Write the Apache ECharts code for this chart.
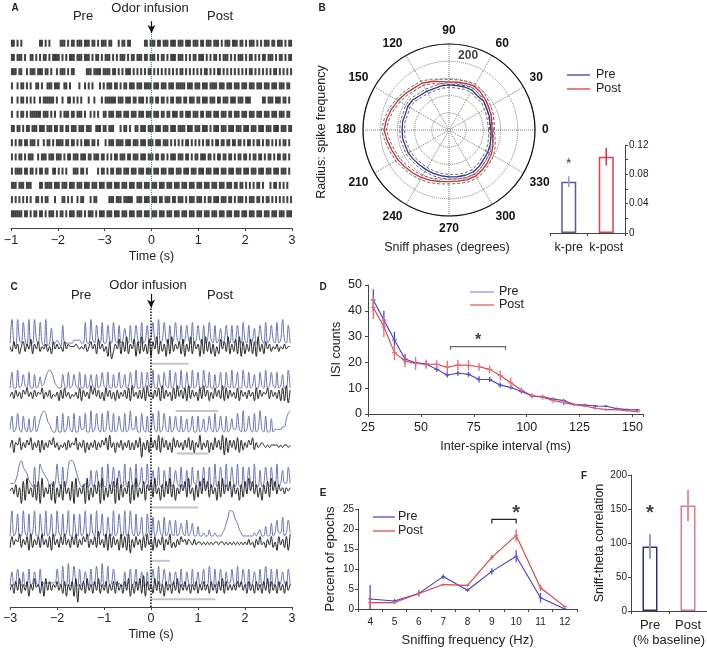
<!DOCTYPE html>
<html><head><meta charset="utf-8">
<script src="https://cdn.jsdelivr.net/npm/echarts@6/dist/echarts.min.js"></script>
<style>html,body{margin:0;padding:0;background:#fff}#c{width:707px;height:648px}</style>
</head><body><div id="c"></div>
<script>
// ---------------- DATA ----------------
// Panel A: raster (13 trials), one char per 0.04 s bin from -3 s; '1' = spike
const rasterStart = -3, rasterBin = 0.04;
const rasterTickLabels = ['\u22121','\u22122','\u22123','0','1','2','3'];
const rasterRows = [
 "110101000000000110101000001110"+"101101110111011010111011000101"+"101100000001101110110111011101"+"110111011101101110111010111011"+"101101011101010111011011101011",
 "110111010011010101101011110101"+"011101110111010110101110101011"+"101011011101101110101101011101"+"110101011011101010110101110101"+"011101011010101101110101101011",
 "111011001011101110110100101110"+"101100000011101111011110110101"+"011101010101011010101010101010"+"110101010101011010101101010101"+"010101011010101010101101010101",
 "100101101010011010011101110011"+"010000100101010001010111011010"+"110111011101111011101110111011"+"111011101110111011110111011101"+"110111011101110111011101110110",
 "100101101010100101111110100100"+"110101010001001000101111110111"+"011101101110101101101101011011"+"101101110110111011101101110111"+"011101110000001101110111011010",
 "100101101011111101110101001011"+"101101110100101010011011101110"+"111011101110111011101101101110"+"110111011101101110111011101101"+"110111011101110111011101110110",
 "110110101101110111011101101101"+"101110111011100111011011100010"+"110100110111011101110111011101"+"111011101110111010111011101110"+"111011101110111011101110111011",
 "101011011011101001011010111101"+"101101010111011010001011101111"+"011101110111011101110111010101"+"010110101010101101011011011011"+"011010110101101011010101011010",
 "101011010111001011101110111010"+"110111011101101110110101011011"+"101101110111011101101101011101"+"110110101101110110101101101101"+"011011010110110101101011011010",
 "101111011011010110110011010101"+"000111011010000010110101101110"+"111011101110111011101110111011"+"101110111011101110111011101110"+"111011101110111011101110111010",
 "111011101110000110111101110111"+"011101110111011101110111011101"+"110111011101110111011101110111"+"011101110111011101110111011101"+"101101010101101000101101010100",
 "101010101010011010110001000110"+"101001011000101100000011101110"+"111110011101110111011011101101"+"110101110111010110111011101101"+"011101011101101011010101010101",
 "111111011010110110101110101101"+"011101110101110101110111011101"+"110111011101110111011101110111"+"011101110111011101110111011101"+"110111011101110111011101110111"
];

// Panel B: polar spike frequency vs sniff phase
const polarAngles = [0,10,20,30,40,50,60,70,80,90,100,110,120,130,140,150,160,170,180,190,200,210,220,230,240,250,260,270,280,290,300,310,320,330,340,350];
const polarPre  = [122,121,124,126,131,129,134,133,131,131,130,128,130,131,137,138,135,137,136,137,135,136,134,133,133,134,135,136,138,140,141,137,132,130,127,124];
const polarPost = [125,126,130,133,138,143,147,144,141,140,143,150,157,159,165,171,178,184,189,182,176,172,167,163,160,156,152,150,151,154,155,151,146,142,136,129];
const polarPreSem = 7, polarPostSem = 7;
const polarRingLabel = 200;
const kCategories = ['k-pre','k-post'];
const kValues = [0.070, 0.104];
const kErr = [0.0073, 0.012];
const kStar = 0.094;

// Panel C: sniff (blue) and theta (black) traces, one digit (0-9) per 0.04 s from -3 s
const traceStart = -3, traceStep = 0.04;
const sniffTraces = [
 "191092182091192181090161121071"+"111122221181192172181172182171"+"262171272181271382191282171282"+"171272181272171282171261272171"+"272182171261272181272181292171",
 "181191272181171262368986321172"+"181272181171272171282181171281"+"271282191181282191172182191281"+"191182191281192181171281182191"+"281192181271182191282181271191",
 "271282172161271368985421171181"+"272181172281191282181292181272"+"181292271182171282191282171272"+"171261271171261272181272171262"+"282191272181292171161222233689",
 "222358976532171286543121282171"+"279986421121161262171181271262"+"181172181272281262171162171262"+"171161172261271171181272181272"+"181171272181161272172181262272",
 "191281192181291182191281192181"+"291182181291182191281172191282"+"191292181271182171262171262161"+"252161251141121131121112357998"+"653211111121231141151262271262",
 "161272161171262171222222272181"+"191282171262171282191181272121"+"161271271261161272181272161262"+"171162171261271182171271162272"+"181272171262171282171271262171"
];
const thetaTraces = [
 "537462573648264735463527464537"+"465556545463574628463517036482"+"739264817293628174927361829364"+"728163927461829372615284739263"+"829172638271936274635463546455",
 "463746375846374658364735462738"+"463546382746395847362847362736"+"473829463738294637482937462839"+"473829374628394726384739283746"+"382746374628374658374637282917",
 "472658364758364727364758463546"+"374658364726364736475839462647"+"364736374806372847392847362847"+"463748372649364726384739182747"+"382736475836456545455554545545",
 "564736182946372819364728163728"+"462819364719263748192637481927"+"364817293648275839462738493726"+"475839462738495837462839475837"+"462738495847362748395847564656",
 "374658364728364738463728463748"+"463748364758364739463828374628"+"372816374627384627364726483536"+"475646546455454545455455454545"+"454545464536474536473527463728",
 "463748364726485637284746574637"+"264728064738463748364736473746"+"374826374839274638473627463748"+"364746364736474637463748374646"+"475746374637463748374637463746"
];
const grayBarRanges = [[0,0.8],[0.52,1.43],[0.55,1.23],[0,1.0],[0,0.4],[0,1.37]];

// Panel D: ISI histogram
const isiX = [27.5,32.5,37.5,42.5,47.5,52.5,57.5,62.5,67.5,72.5,77.5,82.5,87.5,92.5,97.5,102.5,107.5,112.5,117.5,122.5,127.5,132.5,137.5,142.5,147.5,152.5];
const isiPre = [44.2,36.4,28.7,21.3,19.9,19.4,17.3,15.1,15.8,15.4,13.4,13.4,11.2,10.3,8.7,7.1,6.7,5.8,5.2,3.7,3.5,3.1,3.0,2.1,1.7,1.6];
const isiPreErr = [4.2,3.6,3.2,2,1,1,1,1,1,1,1.2,1,1,0.8,0.8,0.7,0.7,0.6,0.6,0.5,0.5,0.4,0.4,0.4,0.4,0.3];
const isiPost = [41.3,33.8,23.8,20.5,19.6,19.3,19.3,18.1,19.0,18.9,18.3,17.3,14.9,12.1,9.3,7.0,6.5,5.2,4.4,3.6,3.1,2.2,1.7,1.7,1.3,0.9];
const isiPostErr = [4.5,4,3,2.5,2.5,1.8,1.5,2.5,2,2,1.5,1.5,2,2,1,1,1,1,1,0.6,0.5,0.5,0.5,0.4,0.4,0.3];
const isiBracket = {from:64, to:90, y:26.1, drop:1.2};
const isiStar = [77, 28.3];

// Panel E: sniffing frequency distribution
const freqCats = ['4','5','6','7','8','9','10','11','12'];
const freqPre = [2.5,2.0,3.9,8.1,4.7,9.4,13.2,2.8,0.0];
const freqPreErr = [3.5,0.5,0.8,0.6,0.4,0.8,1.5,1.2,0.3];
const freqPost = [1.6,1.6,3.9,6.1,5.9,12.9,18.4,5.3,0.6];
const freqPostErr = [1.6,0.4,0.5,0.3,0.3,0.6,1.5,0.8,0.3];
const freqBracket = {from:8.8, to:10.25, y:22.4, drop:1.0};
const freqStar = [9.55, 24];

// Panel F: sniff-theta correlation
const corrCats = ['Pre','Post'];
const corrValues = [95, 155];
const corrErr = [18, 23];
const corrStar = 144;

// ---------------- BUILD ----------------
const FONT = 'Liberation Sans, Arial, sans-serif';
const TXT = '#222';
const chart = echarts.init(document.getElementById('c'));

const rasterData = [];
rasterRows.forEach((s, r) => {
  for (let i = 0; i < s.length; i++) {
    const t = rasterStart + (i + 0.5) * rasterBin;
    if (s[i] === '1' && t < 3) rasterData.push([t, r + 1]);
  }
});

function closeLoop(vals, off) {
  const d = vals.map((v, i) => [v + off, polarAngles[i]]);
  d.push(d[0]);
  return d;
}

// trace layout (offsets in the hidden C y-axis, 1 unit = 1 px)
const traceLayout = [
  {sb:265, ss:3.0, tb:252, ts:2.5, gy:247},
  {sb:220, ss:2.3, tb:205, ts:2.2, gy:199},
  {sb:175, ss:2.7, tb:152, ts:2.5, gy:156},
  {sb:119, ss:3.3, tb:102, ts:3.2, gy:101},
  {sb:69,  ss:3.2, tb:52,  ts:2.8, gy:47},
  {sb:19,  ss:2.8, tb:5,   ts:3.0, gy:8}
];
function traceData(str, base, scale) {
  const d = [];
  for (let i = 0; i < str.length; i++) {
    const t = traceStart + i * traceStep;
    if (t > 3.0001) break;
    d.push([t, base + Number(str[i]) * scale]);
  }
  return d;
}

function errBars(xi, yi, xs, vals, errs, color, capHalf, lw) {
  return {
    type:'custom', xAxisIndex:xi, yAxisIndex:yi, clip:true, z:4, silent:true,
    data: vals.map((v, i) => [xs[i], v - errs[i], v + errs[i], v]),
    renderItem: (p, api) => {
      const a = api.coord([api.value(0), api.value(1)]);
      const b = api.coord([api.value(0), api.value(2)]);
      const m = api.coord([api.value(0), api.value(3)]);
      const ch = [{type:'line', shape:{x1:a[0], y1:a[1], x2:b[0], y2:b[1]}, style:{stroke:color, lineWidth:lw || 1.3}}];
      if (capHalf) ch.push({type:'line', shape:{x1:m[0]-capHalf, y1:m[1], x2:m[0]+capHalf, y2:m[1]}, style:{stroke:color, lineWidth:1}});
      return {type:'group', children: ch};
    }
  };
}
function bracket(xi, yi, b, color, toIdx) {
  const f = toIdx ? toIdx(b.from) : b.from, t = toIdx ? toIdx(b.to) : b.to;
  return {
    type:'custom', xAxisIndex:xi, yAxisIndex:yi, silent:true, z:5,
    data:[[f, b.y, t, b.y - b.drop]],
    renderItem: (p, api) => {
      const p1 = api.coord([api.value(0), api.value(3)]);
      const p2 = api.coord([api.value(0), api.value(1)]);
      const p3 = api.coord([api.value(2), api.value(1)]);
      const p4 = api.coord([api.value(2), api.value(3)]);
      return {type:'polyline', shape:{points:[p1,p2,p3,p4]}, style:{stroke:color, lineWidth:1.2, fill:null}};
    }
  };
}
function star(xi, yi, pt, size, bold) {
  return {type:'scatter', xAxisIndex:xi, yAxisIndex:yi, silent:true, z:6, symbolSize:1,
    itemStyle:{color:'rgba(0,0,0,0)'}, data:[pt],
    label:{show:true, position:'inside', formatter:'*', fontSize:size, fontWeight: bold ? 'bold' : 'normal', color:'#111', fontFamily:FONT}};
}

const axisLineStyle = {show:true, onZero:false, lineStyle:{color:'#444', width:1}};
const axisTickStyle = {show:true, length:3, lineStyle:{color:'#444'}};
const minusFmt = v => v < 0 ? '\u2212' + Math.abs(v) : String(v);

const series = [];
// A raster
series.push({
  type:'scatter', xAxisIndex:0, yAxisIndex:0, symbol:'rect', symbolSize:[2, 7],
  itemStyle:{color:'#111'}, data: rasterData, silent:true,
  markLine:{silent:true, animation:false, label:{show:false},
    data:[
      [{coord:[0, 0.35], symbol:'none', lineStyle:{type:'dotted', color:'#3d9a7c', width:1}}, {coord:[0, 13.45], symbol:'none'}],
      [{coord:[0, -0.55], symbol:'none', lineStyle:{type:'solid', color:'#111', width:1.2}}, {coord:[0, 0.28], symbol:'arrow', symbolSize:[6,8]}]
    ]}
});
// B polar
const polarStyle = (c, w, dash) => ({color:c, width:w, type: dash ? [3,2] : 'solid'});
[[polarPre, polarPreSem], [polarPost, polarPostSem]].forEach(([vals, sem]) => {
  [sem, -sem].forEach(o => series.push({type:'line', coordinateSystem:'polar', polarIndex:0, symbol:'none', silent:true,
    data: closeLoop(vals, o), lineStyle: polarStyle('#555', 0.9, true), z:2}));
});
series.push({type:'line', coordinateSystem:'polar', polarIndex:0, symbol:'none', silent:true, data: closeLoop(polarPre, 0), lineStyle: polarStyle('#30309a', 1.3), z:3});
series.push({type:'line', coordinateSystem:'polar', polarIndex:0, symbol:'none', silent:true, data: closeLoop(polarPost, 0), lineStyle: polarStyle('#e02a2a', 1.3), z:3});
series.push({type:'scatter', coordinateSystem:'polar', polarIndex:0, symbolSize:1, silent:true, itemStyle:{color:'rgba(0,0,0,0)'},
  data:[[polarRingLabel, 82]], label:{show:true, position:[0,0], align:'left', verticalAlign:'bottom', formatter:String(polarRingLabel), fontWeight:'bold', fontSize:12, color:'#111', fontFamily:FONT}});
// B bars
const kBarColors = ['#5a5aa0', '#e0404e'];
const kErrColors = ['#9a9ad8', '#d8303e'];
series.push({type:'bar', xAxisIndex:1, yAxisIndex:1, barWidth:15, silent:true,
  data: kValues.map((v, i) => ({value:v, itemStyle:{color:'rgba(0,0,0,0)', borderColor:kBarColors[i], borderWidth:1.5}}))});
kValues.forEach((v, i) => series.push(errBars(1, 1, [i], [v], [kErr[i]], kErrColors[i], 0, 1.5)));
series.push(star(1, 1, [0, kStar], 14, false));
// C traces
sniffTraces.forEach((s, k) => {
  const L = traceLayout[k];
  series.push({type:'line', xAxisIndex:2, yAxisIndex:2, symbol:'none', silent:true, smooth:0.4,
    data: traceData(s, L.sb, L.ss), lineStyle:{color:'#6c74bc', width:1}, z:2});
});
thetaTraces.forEach((s, k) => {
  const L = traceLayout[k];
  series.push({type:'line', xAxisIndex:2, yAxisIndex:2, symbol:'none', silent:true, smooth:0.4,
    data: traceData(s, L.tb, L.ts), lineStyle:{color:'#1e1e1e', width:1}, z:3});
});
grayBarRanges.forEach((r, k) => {
  series.push({type:'line', xAxisIndex:2, yAxisIndex:2, symbol:'none', silent:true,
    data:[[r[0], traceLayout[k].gy], [r[1], traceLayout[k].gy]], lineStyle:{color:'#c4c4c4', width:2}, z:1});
});
series.push({type:'line', xAxisIndex:2, yAxisIndex:2, symbol:'none', silent:true, data:[], lineStyle:{opacity:0},
  markLine:{silent:true, animation:false, label:{show:false},
    data:[
      [{coord:[0, 0], symbol:'none', lineStyle:{type:'dotted', color:'#111', width:1.5}}, {coord:[0, 304], symbol:'none'}],
      [{coord:[0, 318], symbol:'none', lineStyle:{type:'solid', color:'#111', width:1.2}}, {coord:[0, 304], symbol:'arrow', symbolSize:[6,8]}]
    ]}});
// D
series.push({type:'line', xAxisIndex:3, yAxisIndex:3, symbol:'none', silent:true, data: isiX.map((x,i)=>[x, isiPre[i]]), lineStyle:{color:'#3a3ae6', width:1.1}, z:3});
series.push({type:'line', xAxisIndex:3, yAxisIndex:3, symbol:'none', silent:true, data: isiX.map((x,i)=>[x, isiPost[i]]), lineStyle:{color:'#e83a3a', width:1.1}, z:3});
series.push(errBars(3, 3, isiX, isiPre, isiPreErr, '#4a4ae8', 2.5));
series.push(errBars(3, 3, isiX, isiPost, isiPostErr, '#f06a6a', 2.5));
series.push(bracket(3, 3, isiBracket, '#666'));
series.push(star(3, 3, isiStar, 16, true));
// E
series.push({type:'line', xAxisIndex:4, yAxisIndex:4, symbol:'none', silent:true, data: freqPre, lineStyle:{color:'#3a3ae6', width:1.1}, z:3});
series.push({type:'line', xAxisIndex:4, yAxisIndex:4, symbol:'none', silent:true, data: freqPost, lineStyle:{color:'#e83a3a', width:1.1}, z:3});
const fIdx = freqCats.map((c, i) => i);
series.push(errBars(4, 4, fIdx, freqPre, freqPreErr, '#5050e8', 2));
series.push(errBars(4, 4, fIdx, freqPost, freqPostErr, '#f05a5a', 2));
series.push(bracket(4, 4, freqBracket, '#222', v => v - 4));
series.push(star(4, 4, [freqStar[0] - 4, freqStar[1]], 20, true));
// F
const corrBarColors = ['#2e2e80', '#e47a88'];
const corrErrColors = ['#9a9ad0', '#e6909a'];
series.push({type:'bar', xAxisIndex:5, yAxisIndex:5, barWidth:15, silent:true,
  data: corrValues.map((v, i) => ({value:v, itemStyle:{color:'rgba(0,0,0,0)', borderColor:corrBarColors[i], borderWidth:1.5}}))});
corrValues.forEach((v, i) => series.push(errBars(5, 5, [i], [v], [corrErr[i]], corrErrColors[i], 0, 2)));
series.push(star(5, 5, [0, corrStar], 20, true));

const txt = (text, x, y, size, opt) => Object.assign({type:'text', x:x, y:y, silent:true,
  style:{text:text, x:0, y:0, fill:TXT, font:(opt && opt.bold ? 'bold ' : '') + size + 'px ' + FONT,
    align:'center', verticalAlign:'middle', textAlign:'center', textVerticalAlign:'middle'}}, (opt && opt.el) || {});
const lineEl = (x1, y1, x2, y2, c) => ({type:'line', silent:true, shape:{x1, y1, x2, y2}, style:{stroke:c, lineWidth:1.2}});
const leftTxt = (text, x, y, size) => ({type:'text', x:x, y:y, silent:true,
  style:{text:text, x:0, y:0, fill:TXT, font:size + 'px ' + FONT, align:'left', verticalAlign:'middle', textAlign:'left', textVerticalAlign:'middle'}});

const graphic = [
  txt('A', 15, 8, 10, {bold:true}), txt('B', 322, 8, 10, {bold:true}),
  txt('C', 14, 287, 10, {bold:true}), txt('D', 323, 287, 10, {bold:true}),
  txt('E', 323, 493, 10, {bold:true}), txt('F', 584, 476, 10, {bold:true}),
  txt('Pre', 83, 16, 13), txt('Odor infusion', 150, 8, 13), txt('Post', 220, 16, 13),
  txt('Pre', 81, 295, 13), txt('Odor infusion', 148, 285, 13), txt('Post', 220, 295, 13),
  txt('Radius: spike frequency', 322, 132, 12.5, {el:{rotation:Math.PI/2}}),
  txt('Sniff phases (degrees)', 447, 248, 12.5),
  lineEl(567, 75, 590, 75, '#30309a'), leftTxt('Pre', 596, 75, 12.5),
  lineEl(567, 89, 590, 89, '#e02a2a'), leftTxt('Post', 596, 89, 12.5),
  lineEl(470, 292, 494, 292, '#8a8af2'), leftTxt('Pre', 499, 292, 12.5),
  lineEl(470, 305, 494, 305, '#ef5050'), leftTxt('Post', 499, 305, 12.5),
  lineEl(373, 517, 395, 517, '#3a3ae6'), leftTxt('Pre', 398, 517, 12.5),
  lineEl(373, 531, 395, 531, '#e83a3a'), leftTxt('Post', 398, 531, 12.5),
  txt('(% baseline)', 669, 640, 13)
];

const baseLabel = (size, extra) => Object.assign({fontSize:size, color:TXT, fontFamily:FONT}, extra || {});
const nameStyle = size => ({fontSize:size, color:TXT, fontFamily:FONT});

const option = {
  animation:false,
  textStyle:{fontFamily:FONT},
  grid:[
    {left:11, top:14.8, width:281, height:213.2},
    {left:550, top:145, width:75, height:88},
    {left:10, top:285, width:282, height:327},
    {left:368, top:285, width:275, height:129},
    {left:358, top:509, width:219, height:102},
    {left:631, top:475, width:76, height:136}
  ],
  polar:{center:[449,130], radius:86},
  angleAxis:{polarIndex:0, type:'value', min:0, max:360, interval:30, startAngle:0, clockwise:false,
    axisLine:{show:true, lineStyle:{color:'#111', width:1.2}}, axisTick:{show:false},
    axisLabel:baseLabel(12, {fontWeight:'bold', color:'#111', margin:7, formatter:v => v >= 360 ? '' : String(v)}),
    splitLine:{show:true, lineStyle:{type:'dotted', color:'#777', width:1}}},
  radiusAxis:{polarIndex:0, type:'value', min:0, max:250, interval:50,
    axisLine:{show:false}, axisTick:{show:false}, axisLabel:{show:false},
    splitLine:{show:true, lineStyle:{type:'dotted', color:'#777', width:1}}},
  xAxis:[
    {gridIndex:0, type:'value', min:-3, max:3, interval:1, axisLine:axisLineStyle, axisTick:axisTickStyle,
      axisLabel:baseLabel(12.5, {margin:6, formatter:v => rasterTickLabels[Math.round(v + 3)]}), splitLine:{show:false},
      name:'Time (s)', nameLocation:'middle', nameGap:22, nameTextStyle:nameStyle(12.5)},
    {gridIndex:1, type:'category', data:kCategories, axisLine:axisLineStyle, axisTick:axisTickStyle,
      axisLabel:baseLabel(12.5, {margin:8, interval:0})},
    {gridIndex:2, type:'value', min:-3, max:3, interval:1, axisLine:axisLineStyle, axisTick:axisTickStyle,
      axisLabel:baseLabel(12.5, {margin:5, formatter:minusFmt}), splitLine:{show:false},
      name:'Time (s)', nameLocation:'middle', nameGap:21, nameTextStyle:nameStyle(12.5)},
    {gridIndex:3, type:'value', min:25, max:155, interval:25, axisLine:axisLineStyle, axisTick:axisTickStyle,
      axisLabel:baseLabel(12.5, {margin:7, formatter:v => v > 150 ? '' : String(v)}), splitLine:{show:false},
      name:'Inter-spike interval (ms)', nameLocation:'middle', nameGap:26, nameTextStyle:nameStyle(12.5)},
    {gridIndex:4, type:'category', data:freqCats, boundaryGap:true, axisLine:axisLineStyle, axisTick:axisTickStyle,
      axisLabel:baseLabel(10, {margin:8, interval:0}),
      name:'Sniffing frequency (Hz)', nameLocation:'middle', nameGap:25, nameTextStyle:nameStyle(13)},
    {gridIndex:5, type:'category', data:corrCats, axisLine:axisLineStyle, axisTick:axisTickStyle,
      axisLabel:baseLabel(13, {margin:8, interval:0})}
  ],
  yAxis:[
    {gridIndex:0, type:'value', min:-1, max:14, inverse:true, show:false},
    {gridIndex:1, type:'value', position:'right', min:0, max:0.12, interval:0.02, axisLine:axisLineStyle,
      axisTick:axisTickStyle, splitLine:{show:false},
      axisLabel:baseLabel(10, {margin:4, formatter:v => (Math.round(v*100) % 4 === 0) ? (v === 0 ? '0' : v.toFixed(2)) : ''})},
    {gridIndex:2, type:'value', min:0, max:327, show:false},
    {gridIndex:3, type:'value', min:0, max:50, interval:10, axisLine:axisLineStyle, axisTick:axisTickStyle,
      splitLine:{show:false}, axisLabel:baseLabel(12.5, {margin:6}),
      name:'ISI counts', nameLocation:'middle', nameGap:25, nameTextStyle:nameStyle(12.5)},
    {gridIndex:4, type:'value', min:0, max:25, interval:5, axisLine:axisLineStyle, axisTick:axisTickStyle,
      splitLine:{show:false}, axisLabel:baseLabel(10, {margin:4}),
      name:'Percent of epochs', nameLocation:'middle', nameGap:21, nameTextStyle:nameStyle(13)},
    {gridIndex:5, type:'value', min:0, max:200, interval:50, axisLine:axisLineStyle, axisTick:axisTickStyle,
      splitLine:{show:false}, axisLabel:baseLabel(10, {margin:4}),
      name:'Sniff-theta correlation', nameLocation:'middle', nameGap:23, nameTextStyle:nameStyle(12.5)}
  ],
  series: series,
  graphic: graphic
};
chart.setOption(option);
</script></body></html>
